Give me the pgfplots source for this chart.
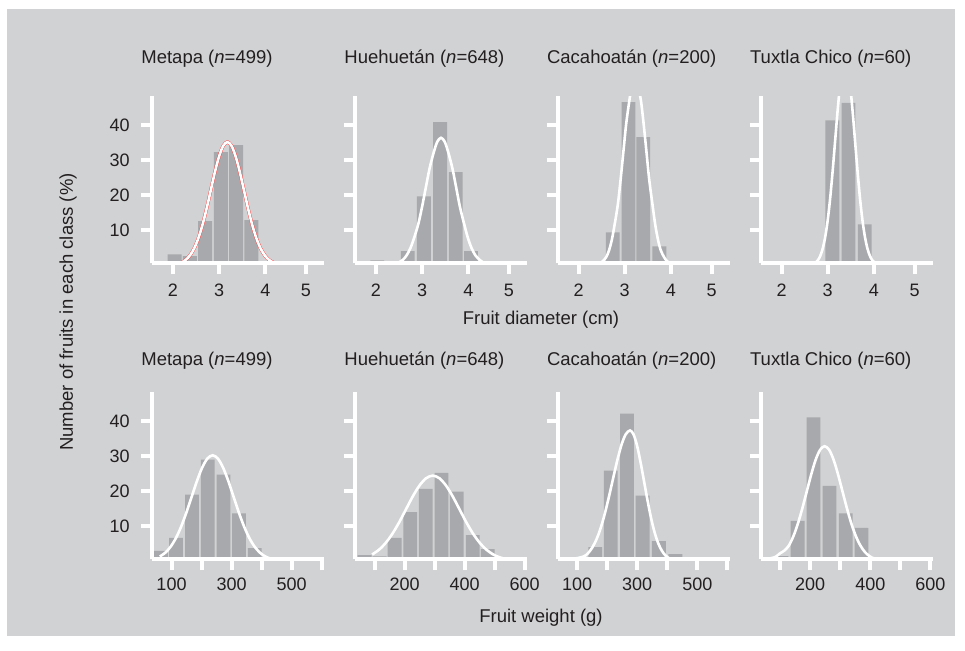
\documentclass[border=0pt]{standalone}
\usepackage{fontspec}
\setmainfont{Liberation Sans}
\usepackage{pgfplots}
\pgfplotsset{compat=1.18}
\definecolor{bg}{RGB}{209,210,212}
\definecolor{barc}{RGB}{167,169,172}
\definecolor{tc}{RGB}{35,31,32}
\pgfplotsset{
 panel/.style={scale only axis, width=86pt, height=83.5pt, ymin=0.5, ymax=48.2,
  axis x line*=bottom, axis y line*=left,
  axis line style={draw=white, line width=2pt, -},
  major tick length=5.5pt, tick align=outside,
  major tick style={draw=white, line width=2pt},
  ytick={10,20,30,40}, yticklabels={},
  /pgf/number format/assume math mode=true,
  tick label style={font=\fontsize{9}{10}\selectfont, text=tc},
  yticklabel style={xshift=-2.1pt},
  title style={at={(0,1)}, anchor=base west, inner sep=0pt, xshift=-5.5pt, font=\fontsize{9.25}{11}\selectfont, text=tc},
  axis on top},
 toprow/.style={panel, xmin=1.55, xmax=5.27, xtick={2,3,4,4.88}, xticklabels={2,3,4,5}, xticklabel style={yshift=-1.4pt}, title style={yshift=10.3pt}},
 botrow/.style={panel, xmin=35, xmax=608, xtick={100,200,300,400,500,600}, xticklabel style={yshift=-0.3pt}, title style={yshift=7.4pt}},
 bars/.style={ybar, bar shift=0pt, fill=barc, draw=none},
 fit/.style={white, line width=1.3pt, smooth},
}
\begin{document}
\begin{tikzpicture}
\path[use as bounding box, fill=white] (0pt,0pt) rectangle (482.5pt,325.5pt);
\fill[bg] (3.5pt,7.5pt) rectangle (477.5pt,321pt);
% ---------------- top row: fruit diameter ----------------
\begin{axis}[toprow, at={(76pt,193.75pt)}, anchor=south west, yticklabels={10,20,30,40}, title={Metapa (\textit{n}=499)}]
\addplot[bars, bar width=0.30] coordinates {(2.04,3.1) (2.37,2.6) (2.70,12.6) (3.04,32.3) (3.37,34.3) (3.70,12.9)};
\addplot[red!80, line width=1.65pt, smooth] coordinates {(2.10,0.39)(2.19,0.80)(2.28,1.55)(2.37,2.80)(2.46,4.76)(2.55,7.61)(2.64,11.43)(2.73,16.11)(2.82,21.35)(2.91,26.57)(3.00,31.06)(3.09,34.12)(3.18,35.2)(3.27,34.12)(3.36,31.06)(3.45,26.57)(3.54,21.35)(3.63,16.11)(3.72,11.43)(3.81,7.61)(3.90,4.76)(3.99,2.80)(4.08,1.55)(4.17,0.80)(4.26,0.39)};
\addplot[fit] coordinates {(2.10,0.39)(2.19,0.80)(2.28,1.55)(2.37,2.80)(2.46,4.76)(2.55,7.61)(2.64,11.43)(2.73,16.11)(2.82,21.35)(2.91,26.57)(3.00,31.06)(3.09,34.12)(3.18,35.2)(3.27,34.12)(3.36,31.06)(3.45,26.57)(3.54,21.35)(3.63,16.11)(3.72,11.43)(3.81,7.61)(3.90,4.76)(3.99,2.80)(4.08,1.55)(4.17,0.80)(4.26,0.39)};
\end{axis}
\begin{axis}[toprow, at={(177.5pt,193.75pt)}, anchor=south west, title={Huehuetán (\textit{n}=648)}]
\addplot[bars, bar width=0.30] coordinates {(2.03,1.4) (2.36,0.8) (2.69,4.0) (3.04,19.7) (3.39,40.9) (3.73,26.6) (4.06,4.0)};
\addplot[fit] coordinates {(2.42,0.40)(2.50,0.83)(2.59,1.60)(2.67,2.90)(2.75,4.92)(2.83,7.87)(2.92,11.82)(3.00,16.66)(3.08,22.08)(3.16,27.47)(3.25,32.12)(3.33,35.28)(3.41,36.4)(3.49,35.28)(3.57,32.12)(3.66,27.47)(3.74,22.08)(3.82,16.66)(3.91,11.82)(3.99,7.87)(4.07,4.92)(4.15,2.90)(4.24,1.60)(4.32,0.83)(4.40,0.40)};
\end{axis}
\begin{axis}[toprow, at={(278.85pt,193.75pt)}, anchor=south west, title={Cacahoatán (\textit{n}=200)}]
\addplot[bars, bar width=0.30] coordinates {(2.74,9.4) (3.08,46.6) (3.40,36.6) (3.75,5.4) (4.08,1.1)};
\addplot[fit] coordinates {(2.47,0.59)(2.53,1.22)(2.60,2.34)(2.66,4.24)(2.72,7.21)(2.78,11.53)(2.85,17.31)(2.91,24.40)(2.97,32.33)(3.03,40.23)(3.10,47.04)(3.16,51.66)(3.22,53.3)(3.28,51.66)(3.35,47.04)(3.41,40.23)(3.47,32.33)(3.53,24.40)(3.60,17.31)(3.66,11.53)(3.72,7.21)(3.78,4.24)(3.85,2.34)(3.91,1.22)(3.97,0.59)};
\end{axis}
\begin{axis}[toprow, at={(380.35pt,193.75pt)}, anchor=south west, title={Tuxtla Chico (\textit{n}=60)}]
\addplot[bars, bar width=0.30] coordinates {(3.10,41.4) (3.45,46.4) (3.80,11.7)};
\addplot[fit] coordinates {(2.66,0.3)(2.727,0.65)(2.781,1.33)(2.835,2.56)(2.889,4.65)(2.943,7.90)(2.997,12.63)(3.051,18.96)(3.105,26.74)(3.159,35.42)(3.213,44.08)(3.267,51.54)(3.321,56.60)(3.375,58.4)(3.429,56.60)(3.483,51.54)(3.537,44.08)(3.591,35.42)(3.645,26.74)(3.699,18.96)(3.753,12.63)(3.807,7.90)(3.861,4.65)(3.915,2.56)(3.969,1.33)(4.023,0.65)};
\end{axis}
% ---------------- bottom row: fruit weight ----------------
\begin{axis}[botrow, at={(76pt,45.85pt)}, anchor=south west, yticklabels={10,20,30,40}, xticklabels={100,,300,,500,}, title={Metapa (\textit{n}=499)}]
\addplot[bars, bar width=46] coordinates {(65,2.9) (115,6.6) (168,19.0) (221,29.0) (273,24.7) (325,13.6) (377,3.7)};
\addplot[fit] coordinates {(61,1.29)(79.5,2.40)(97,4.09)(114.5,6.53)(132,9.81)(149.5,13.83)(167,18.32)(184.5,22.79)(202,26.65)(219.5,29.27)(237,30.2)(254.5,29.27)(272,26.65)(289.5,22.79)(307,18.32)(324.5,13.83)(342,9.81)(359.5,6.53)(377,4.09)(394.5,2.40)(412,1.33)(429.5,0.69)(439,0.47)};
\end{axis}
\begin{axis}[botrow, at={(177.5pt,45.85pt)}, anchor=south west, xticklabels={,200,,400,,600}, title={Huehuetán (\textit{n}=648)}]
\addplot[bars, bar width=46] coordinates {(67,1.7) (117,1.3) (167,6.6) (219,14.0) (271,20.6) (323,25.2) (374,19.8) (427,7.4) (477,3.4)};
\addplot[fit] coordinates {(92,1.86)(116,3.30)(138.2,5.28)(160.5,7.92)(182.8,11.17)(205,14.80)(227.2,18.42)(249.5,21.53)(271.8,23.65)(294,24.4)(316.2,23.65)(338.5,21.53)(360.8,18.42)(383,14.80)(405.2,11.17)(427.5,7.92)(449.8,5.28)(472,3.30)(494.2,1.94)(516.5,1.07)(538.8,0.56)(550,0.39)};
\end{axis}
\begin{axis}[botrow, at={(278.85pt,45.85pt)}, anchor=south west, xticklabels={100,,300,,500,}, title={Cacahoatán (\textit{n}=200)}]
\addplot[bars, bar width=46] coordinates {(160,4.0) (212,25.8) (266,42.1) (318,18.7) (372,5.7) (427,2.0) (481,0.8)};
\addplot[fit] coordinates {(81,0.7)(99,0.8)(113.8,1.1)(128.5,1.64)(143.2,2.97)(158,5.05)(172.8,8.07)(187.5,12.11)(202.2,17.08)(217,22.62)(231.8,28.15)(246.5,32.92)(261.2,36.15)(276,37.3)(287.8,36.15)(299.5,32.92)(311.2,28.15)(323,22.62)(334.8,17.08)(346.5,12.11)(358.2,8.07)(370,5.05)(381.8,2.97)(393.5,1.64)(405.2,0.85)(417,0.41)(453,0.3)};
\end{axis}
\begin{axis}[botrow, at={(380.35pt,45.85pt)}, anchor=south west, xticklabels={,200,,400,,600}, title={Tuxtla Chico (\textit{n}=60)}]
\addplot[bars, bar width=46] coordinates {(104,1.4) (158,11.5) (211,41.0) (264,21.5) (318,13.6) (371,9.5)};
\addplot[fit] coordinates {(59,0.6)(84.4,1.2)(99.2,2.2)(114.2,3.0)(129,4.44)(143.9,7.09)(158.8,10.65)(173.6,15.02)(188.5,19.89)(203.4,24.76)(218.2,28.95)(233.1,31.79)(248,32.8)(262.9,31.79)(277.8,28.95)(292.6,24.76)(307.5,19.89)(322.4,15.02)(337.2,10.65)(352.1,7.09)(367,4.44)(381.8,2.61)(396.8,1.44)(411.6,0.75)(431,0.4)};
\end{axis}
% ---------------- shared labels ----------------
\node[text=tc, font=\fontsize{9.25}{11}\selectfont] at (270.5pt,165.5pt) {Fruit diameter (cm)};
\node[text=tc, font=\fontsize{9.25}{11}\selectfont] at (270.5pt,16.5pt) {Fruit weight (g)};
\node[text=tc, font=\fontsize{9.25}{11}\selectfont, rotate=90] at (34pt,169.5pt) {Number of fruits in each class (\%)};
\end{tikzpicture}
\end{document}
